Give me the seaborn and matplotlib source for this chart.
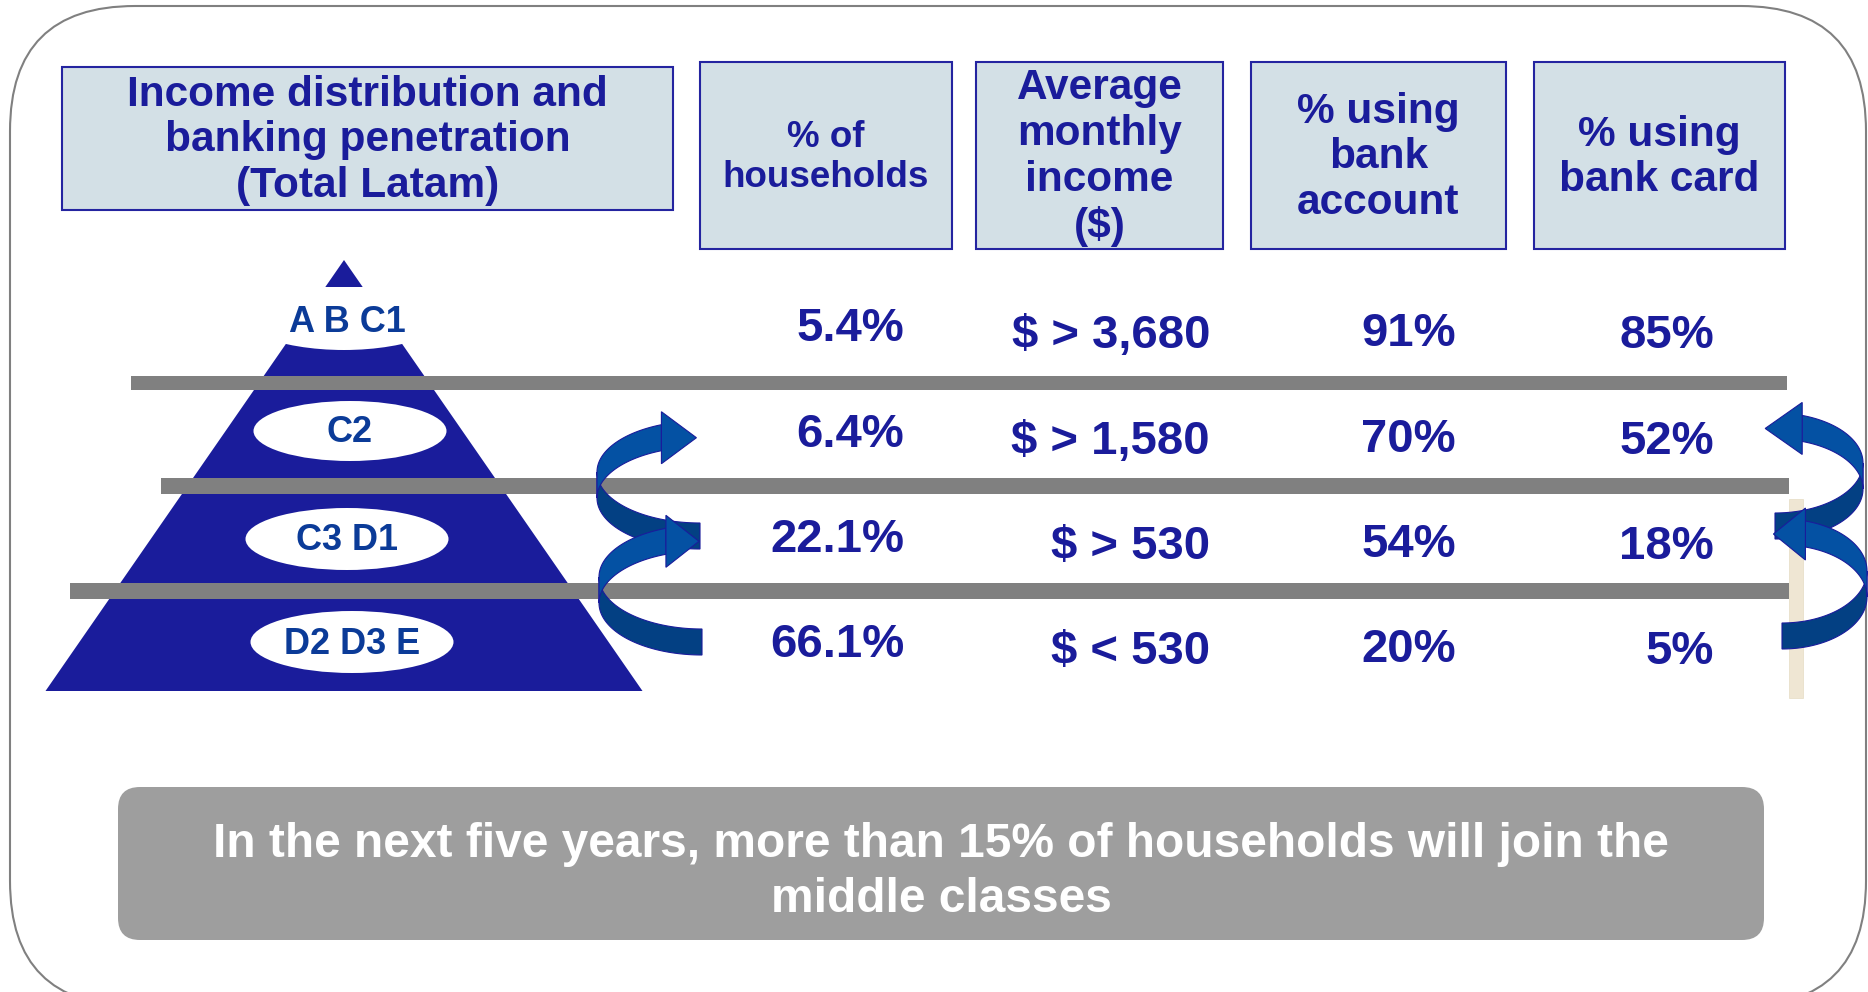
import numpy as np
import matplotlib.pyplot as plt
import seaborn as sns
from matplotlib.patches import Polygon, Ellipse, Rectangle, FancyBboxPatch

# Datos de la lámina
segments = ["A B C1", "C2", "C3 D1", "D2 D3 E"]
households_pct = [5.4, 6.4, 22.1, 66.1]
income_sign = [">", ">", ">", "<"]
income_usd = [3680, 1580, 530, 530]
bank_account_pct = [91, 70, 54, 20]
bank_card_pct = [85, 52, 18, 5]
headers = ["Income distribution and\nbanking penetration\n(Total Latam)",
           "% of\nhouseholds",
           "Average\nmonthly\nincome\n($)",
           "% using\nbank\naccount",
           "% using\nbank card"]
footnote = "In the next five years, more than 15% of households will join the\nmiddle classes"

sns.set_theme(style="white")
plt.rcParams['font.family'] = ['Liberation Sans', 'DejaVu Sans']

NAVY = "#1a1c9b"
LABEL = "#0b3b98"
FRONT = "#0451a3"
BACK = "#034083"
GREY = "#808080"

fig = plt.figure(figsize=(18.68, 9.92), dpi=100)
ax = fig.add_axes([0, 0, 1, 1])
ax.set_xlim(0, 1868)
ax.set_ylim(992, 0)
ax.axis("off")

# marco exterior redondeado
ax.add_patch(FancyBboxPatch((10, 6), 1856, 1000, boxstyle="round,pad=0,rounding_size=125",
                            fc="white", ec=GREY, lw=1.5, zorder=0))

# cabeceras
head_boxes = [(62, 673, 67, 210), (700, 952, 62, 249), (976, 1223, 62, 249),
              (1251, 1506, 62, 249), (1534, 1785, 62, 249)]
head_sizes = [30.5, 26.5, 30.5, 30.5, 30.5]
head_spacing = [1.19, 1.16, 1.19, 1.19, 1.19]
for txt, (x0, x1, y0, y1), fs, ls in zip(headers, head_boxes, head_sizes, head_spacing):
    ax.add_patch(Rectangle((x0, y0), x1 - x0, y1 - y0, fc="#d3e0e6", ec="#2424a0", lw=1.5, zorder=2))
    ax.text((x0 + x1) / 2, (y0 + y1) / 2 + 2, txt, ha="center", va="center", fontsize=fs,
            fontweight="bold", color=NAVY, linespacing=ls, zorder=6)

# pirámide
cx, apex, base, half = 344, 260, 691, 298.5
slope = half / (base - apex)
ax.add_patch(Polygon([(cx, apex), (cx - half, base), (cx + half, base)], fc=NAVY, ec="none", zorder=2))
ax.add_patch(Ellipse((cx, 302), 240, 96, fc="white", ec="none", zorder=2.1))
hw = (287 - apex) * slope
ax.add_patch(Polygon([(cx, apex), (cx - hw, 287), (cx + hw, 287)], fc=NAVY, ec="none", zorder=2.2))

ell = [(347, 320, 0, 0), (350, 431, 193, 60), (347, 539, 203, 62), (352, 642, 203, 62)]
for seg, (ex, ey, ew, eh) in zip(segments, ell):
    if ew:
        ax.add_patch(Ellipse((ex, ey), ew, eh, fc="white", ec="none", zorder=4))
    ax.text(ex, ey + 2, seg, ha="center", va="center", fontsize=26, fontweight="bold",
            color=LABEL, zorder=6)

# franja beige y barras grises
ax.add_patch(Rectangle((1789, 499), 14, 199, fc="#efe6d3", ec="#e6dcc4", lw=0.5, zorder=2))
for x0, x1, y0, y1 in [(131, 1787, 376, 390), (161, 1789, 478, 494), (70, 1789, 583, 599)]:
    ax.add_patch(Rectangle((x0, y0), x1 - x0, y1 - y0, fc=GREY, ec="none", zorder=3))

# valores de la tabla
row_y = [330, 436, 541, 646]
col_x = [904, 1210, 1456, 1714]
col_dy = [-1, 6, 4, 6]
columns = [[f"{v:.1f}%" for v in households_pct],
           [f"$ {s} {v:,}" for s, v in zip(income_sign, income_usd)],
           [f"{v}%" for v in bank_account_pct],
           [f"{v}%" for v in bank_card_pct]]
for vals, x, dy in zip(columns, col_x, col_dy):
    for v, y in zip(vals, row_y):
        ax.text(x, y + dy, v, ha="right", va="center", fontsize=34, fontweight="bold",
                color=NAVY, zorder=6)


# flechas en espiral
def ribbon_arrow(cx, cy, a, b, side, phi_end, hlen, z, width=26, hhalf=26):
    def edge(phi):
        return cx + side * a * np.cos(phi), cy + b * np.sin(phi)
    for lo, hi, col, zz in [(90, 180, BACK, z), (180, phi_end, FRONT, z + 0.1)]:
        x, y = edge(np.radians(np.linspace(lo, hi, 60)))
        pts = np.vstack([np.column_stack([x, y]), np.column_stack([x[::-1], y[::-1] + width])])
        ax.add_patch(Polygon(pts, closed=True, fc=col, ec=NAVY, lw=0.8, zorder=zz))
    xe, ye = edge(np.radians(phi_end))
    ym = ye + width / 2
    ax.add_patch(Polygon([(xe, ym - hhalf), (xe + side * hlen, ym), (xe, ym + hhalf)],
                         fc=FRONT, ec=NAVY, lw=0.8, zorder=z + 0.2))


ribbon_arrow(700, 472, 103, 51, 1, 248, 35, 5)
ribbon_arrow(702, 577, 103, 52, 1, 249.5, 33, 5.5)
ribbon_arrow(1775, 463, 88, 50, -1, 252, 37, 5)
ribbon_arrow(1782, 571, 85, 52, -1, 254, 32, 5.5)

# banda inferior
ax.add_patch(FancyBboxPatch((118, 787), 1646, 153, boxstyle="round,pad=0,rounding_size=22",
                            fc="#9e9e9e", ec="none", zorder=2))
ax.text(941, 872, footnote, ha="center", va="center", fontsize=34.5, fontweight="bold",
        color="white", linespacing=1.27, zorder=6)

fig.savefig("out.png", dpi=100)
